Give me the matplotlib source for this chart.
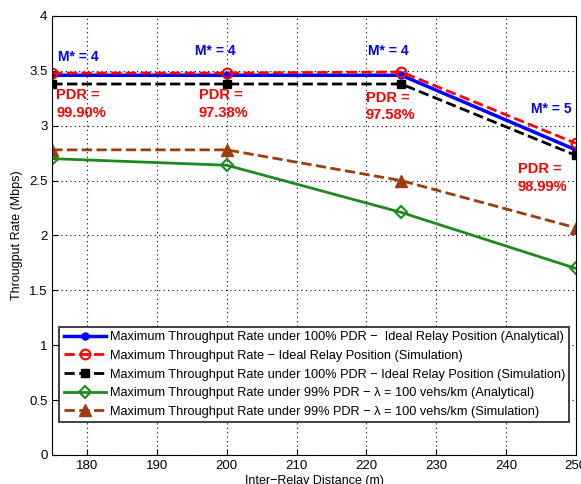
import matplotlib
matplotlib.use('Agg')
import matplotlib.pyplot as plt

plt.rcParams['font.family'] = ['Liberation Sans', 'DejaVu Sans']

# dati
distanze = [175, 200, 225, 250]
analitico_100 = [3.46, 3.46, 3.46, 2.78]
simulazione_ideale = [3.48, 3.48, 3.49, 2.84]
simulazione_100 = [3.38, 3.38, 3.38, 2.73]
analitico_99 = [2.70, 2.64, 2.21, 1.70]
simulazione_99 = [2.78, 2.78, 2.50, 2.07]

etichette = [
    'Maximum Throughput Rate under 100% PDR \u2212  Ideal Relay Position (Analytical)',
    'Maximum Throughput Rate \u2212 Ideal Relay Position (Simulation)',
    'Maximum Throughput Rate under 100% PDR \u2212 Ideal Relay Position (Simulation)',
    'Maximum Throughput Rate under 99% PDR \u2212 \u03bb = 100 vehs/km (Analytical)',
    'Maximum Throughput Rate under 99% PDR \u2212 \u03bb = 100 vehs/km (Simulation)',
]

m_star = ['M* = 4', 'M* = 4', 'M* = 4', 'M* = 5']
m_pos = [(175.8, 3.63), (195.5, 3.68), (220.2, 3.68), (243.6, 3.15)]
pdr = ['PDR =\n99.90%', 'PDR =\n97.38%', 'PDR =\n97.58%', 'PDR =\n98.99%']
pdr_pos = [(175.6, 3.34), (196.0, 3.34), (219.9, 3.32), (241.7, 2.67)]

marrone = '#9c3d0c'
verde = '#1d8a1d'

fig = plt.figure(figsize=(5.81, 4.84), dpi=100)
ax = fig.add_axes([0.09, 0.06, 0.901, 0.907])

ax.plot(distanze, analitico_100, '-', color='blue', lw=2.5, marker='o', ms=5,
        label=etichette[0])
ax.plot(distanze, simulazione_ideale, '--', color='red', lw=2, marker='o', ms=7,
        mfc='none', mew=1.5, label=etichette[1])
ax.plot(distanze, simulazione_100, '--', color='black', lw=2, marker='s', ms=6,
        label=etichette[2])
ax.plot(distanze, analitico_99, '-', color=verde, lw=2, marker='D', ms=6,
        mfc='none', mew=1.5, label=etichette[3])
ax.plot(distanze, simulazione_99, '--', color=marrone, lw=2, marker='^', ms=8,
        label=etichette[4])

for testo, (x, y) in zip(m_star, m_pos):
    ax.text(x, y, testo, color='blue', fontsize=10, fontweight='bold',
            va='center', ha='left')
for testo, (x, y) in zip(pdr, pdr_pos):
    ax.text(x, y, testo, color='red', fontsize=10.5, fontweight='bold',
            va='top', ha='left', linespacing=1.35)

ax.set_xlim(175, 250)
ax.set_ylim(0, 4)
ax.set_xticks(range(180, 251, 10))
ax.set_yticks([0, 0.5, 1, 1.5, 2, 2.5, 3, 3.5, 4])
ax.set_yticklabels(['0', '0.5', '1', '1.5', '2', '2.5', '3', '3.5', '4'])
ax.tick_params(labelsize=9.5, direction='in', length=4)
ax.grid(True, color='black', linestyle=(0, (1, 3)), linewidth=0.8)
ax.set_xlabel('Inter\u2212Relay Distance (m)', fontsize=9, labelpad=2)
ax.set_ylabel('Througput Rate (Mbps)', fontsize=9)

leg = ax.legend(loc='upper left', bbox_to_anchor=(0.013, 0.292), fontsize=9.2,
                handlelength=3.3, handletextpad=0.3, borderpad=0.35,
                labelspacing=0.52, borderaxespad=0,
                fancybox=False, framealpha=1, edgecolor='#333333')
leg.get_frame().set_linewidth(1.3)

plt.savefig('out.png', dpi=100)
